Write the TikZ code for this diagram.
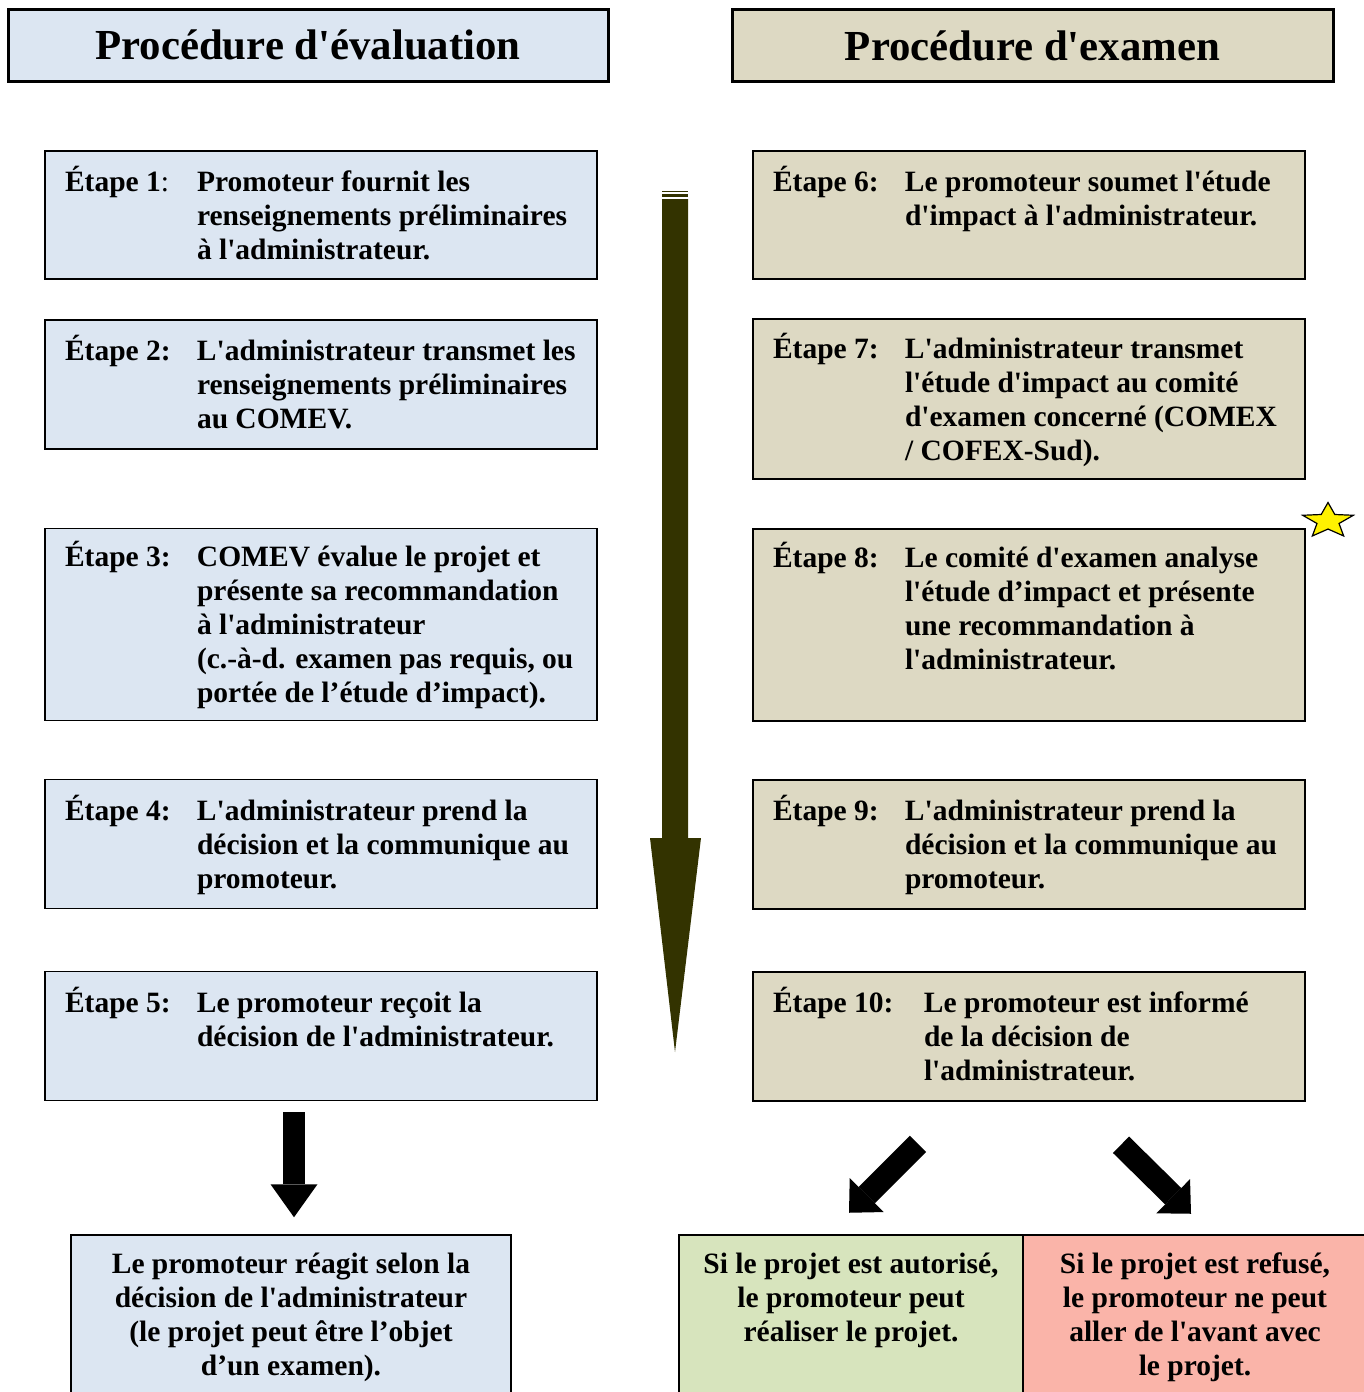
\documentclass[tikz,border=0pt]{standalone}
\usepackage{fontspec}
\setmainfont{Liberation Serif}[Ligatures=TeXOff]
\usetikzlibrary{positioning}
\usetikzlibrary{calc}
\usetikzlibrary{arrows.meta}
\usetikzlibrary{shapes.geometric}
\definecolor{bleu}{RGB}{220,230,242}
\definecolor{beige}{RGB}{221,217,195}
\definecolor{vert}{RGB}{215,228,189}
\definecolor{rose}{RGB}{250,180,169}
\definecolor{fleche}{RGB}{51,51,0}

\newcommand{\etape}[3][132pt]{\makebox[#1][l]{\smash{#2}}\parbox[t]{\dimexpr 512pt-#1\relax}{\raggedright\rule{0pt}{27pt}#3\rule[-7pt]{0pt}{7pt}}}

\tikzset{
  titre/.style={draw, line width=3pt, minimum width=600pt, minimum height=72pt,
    font=\bfseries\fontsize{42.8}{48}\selectfont},
  boite/.style={draw, line width=1.5pt, minimum width=552pt, inner sep=0pt},
  resultat/.style={draw, line width=1.5pt, minimum width=344pt, minimum height=164pt, align=center},
  blocfleche/.style={line width=22pt, -{Triangle[width=47pt, length=33pt, line width=0pt]}},
  diagfleche/.style={line width=23pt, -{Triangle[width=48pt, length=25pt, line width=0pt]}}
}

\begin{document}
\begin{tikzpicture}[x=1pt, y=-1pt, font=\bfseries\fontsize{29.5}{34}\selectfont]
        \useasboundingbox (0,0) rectangle (1364,1392);
        \clip (0,0) rectangle (1364,1392);

        % titles %
        \node[titre, fill=bleu] (tg) at (308,45) {Procédure d'évaluation};
        \node[titre, fill=beige, minimum width=601pt] (td) at (1032.5,45.5) {Procédure d'examen};

        % nodes, left %
        \node[boite, fill=bleu, minimum height=128pt] (e1) at (321,215)
          {\etape{Étape 1{\mdseries:}}{Promoteur fournit les\\ renseignements préliminaires\\ à l'administrateur.}};
        \node[boite, fill=bleu, minimum height=129pt, below=39.5pt of e1] (e2)
          {\etape{Étape 2:}{L'administrateur transmet les\\ renseignements préliminaires\\ au COMEV.}};
        \node[boite, fill=bleu, minimum height=192pt, below=78pt of e2] (e3)
          {\etape{Étape 3:}{COMEV évalue le projet et\\ présente sa recommandation\\ à l'administrateur\\ (c.-à-d. examen pas requis, ou\\ portée de l’étude d’impact).}};
        \node[boite, fill=bleu, minimum height=129pt, below=57.5pt of e3] (e4)
          {\etape{Étape 4:}{L'administrateur prend la\\ décision et la communique au\\ promoteur.}};
        \node[boite, fill=bleu, minimum height=129pt, below=61.5pt of e4] (e5)
          {\etape{Étape 5:}{Le promoteur reçoit la\\ décision de l'administrateur.\\ }};

        % nodes, right %
        \node[boite, fill=beige, minimum height=128pt] (e6) at (1029,215)
          {\etape{Étape 6:}{Le promoteur soumet l'étude\\ d'impact à l'administrateur.\\ }};
        \node[boite, fill=beige, minimum height=160pt, below=38.5pt of e6] (e7)
          {\etape{Étape 7:}{L'administrateur transmet\\ l'étude d'impact au comité\\ d'examen concerné (COMEX\\ / COFEX-Sud).}};
        \node[boite, fill=beige, minimum height=192pt, below=48.5pt of e7] (e8)
          {\etape{Étape 8:}{Le comité d'examen analyse\\ l'étude d’impact et présente\\ une recommandation à\\ l'administrateur.\\ }};
        \node[boite, fill=beige, minimum height=129pt, below=57.5pt of e8] (e9)
          {\etape{Étape 9:}{L'administrateur prend la\\ décision et la communique au\\ promoteur.}};
        \node[boite, fill=beige, minimum height=129pt, below=61.5pt of e9] (e10)
          {\etape[151pt]{Étape 10:}{Le promoteur est informé\\ de la décision de\\ l'administrateur.}};

        \node[star, star points=5, star point ratio=2.3, draw, line width=1.2pt, fill=yellow,
          minimum size=37pt, inner sep=0pt, xscale=1.44, transform shape] (etoile) at (1328,521) {};

        % results %
        \node[resultat, fill=bleu, minimum width=440pt] (res) at (291,1317)
          {Le promoteur réagit selon la\\ décision de l'administrateur\\ (le projet peut être l’objet\\ d’un examen).};
        \node[resultat, fill=vert] (oui) at (851,1317)
          {Si le projet est autorisé,\\ le promoteur peut\\ réaliser le projet.\\ \rule[-5pt]{0pt}{5pt}};
        \node[resultat, fill=rose, right=-1.5pt of oui] (non)
          {Si le projet est refusé,\\ le promoteur ne peut\\ aller de l'avant avec\\ le projet.};

        % big arrow %
        \fill[fleche] (662,191.3) rectangle (688,192.3);
        \fill[fleche] (662,193.7) rectangle (688,196.7);
        \fill[fleche] (662,199) -- (688,199) -- (688,838) -- (701,838) -- (675,1052)
          -- (650,838) -- (662,838) -- cycle;

        % edges %
        \draw[blocfleche, shorten <=11pt, shorten >=17pt] ([xshift=3pt]e5.south -| res.north) -- ([xshift=3pt]res.north);
        \coordinate (o1) at ($(e10.south)+(-111,42)$);
        \coordinate (o2) at ($(o1)+(-69,69)$);
        \coordinate (n1) at ($(e10.south)+(92,43)$);
        \coordinate (n2) at ($(n1)+(70,69)$);
        \draw[diagfleche] (o1) -- (o2);
        \draw[diagfleche] (n1) -- (n2);
      \end{tikzpicture}
\end{document}
